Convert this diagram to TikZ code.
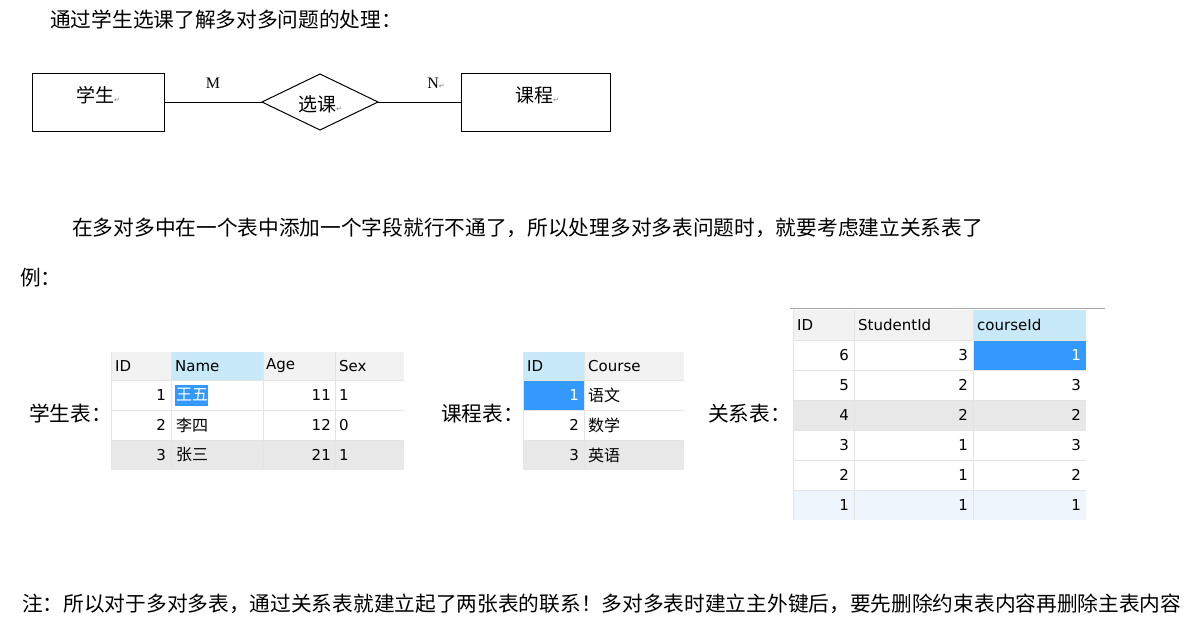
\documentclass[tikz,border=0pt]{standalone}
\usepackage{fontspec}
\setmainfont{Noto Sans CJK SC}
\newfontfamily\latinf{Liberation Serif}
\newfontfamily\uif{DejaVu Sans}
\usetikzlibrary{shapes.geometric}
\definecolor{hdr}{HTML}{F2F2F2}
\definecolor{hdrblue}{HTML}{C8EAF8}
\definecolor{sel}{HTML}{3399FF}
\definecolor{grayrow}{HTML}{E8E8E8}
\definecolor{lightrow}{HTML}{EEF5FD}
\definecolor{gridc}{HTML}{E4E4E4}
\tikzset{
 txt/.style={font=\fontsize{20.7}{20.7}\selectfont, anchor=west, inner sep=0},
 cell/.style={font=\fontsize{15}{15}\selectfont\uif, inner sep=0},
 ent/.style={draw=black, line width=1pt},
}
\begin{document}
\begin{tikzpicture}[x=1pt,y=-1pt]
\useasboundingbox (0,0) rectangle (1187,625);
\fill[white] (0,0) rectangle (1187,625);
\node[txt] (t1) at (50,20) {通过学生选课了解多对多问题的处理：};
% ER
\draw[ent] (32,73) rectangle (164,131);
\node[font=\fontsize{19}{19}\selectfont] (s) at (98,95) {学生\textcolor{gray}{\uif\scriptsize ↵}};
\draw[ent] (461,73) rectangle (610,131);
\node[font=\fontsize{19}{19}\selectfont] (c) at (537,95) {课程\textcolor{gray}{\uif\scriptsize ↵}};
\draw[ent] (262,102) -- (320,74) -- (378,102) -- (320,130) -- cycle;
\node[font=\fontsize{19}{19}\selectfont] (d) at (320,104) {选课\textcolor{gray}{\uif\scriptsize ↵}};
\draw[line width=1pt] (164,102) -- (262,102);
\draw[line width=1pt] (378,102) -- (461,102);
\node[font=\fontsize{16}{16}\selectfont\latinf] (m) at (213,83) {M};
\node[font=\fontsize{16}{16}\selectfont\latinf] (n) at (436,83) {N\textcolor{gray}{\uif\scriptsize ↵}};
\node[txt] (t2) at (72,228) {在多对多中在一个表中添加一个字段就行不通了，所以处理多对多表问题时，就要考虑建立关系表了};
\node[txt] (t3) at (20,278) {例：};
\node[txt] (l1) at (29,414) {学生表：};
\node[txt] (l2) at (441,414) {课程表：};
\node[txt] (l3) at (708,414) {关系表：};
% student table
\fill[hdr] (111,352) rectangle (404,380);
\fill[hdrblue] (171,352) rectangle (263,380);
\fill[grayrow] (111,440) rectangle (404,470);
\foreach \x in {111,171,263,335} \draw[gridc] (\x,352) -- (\x,470);
\foreach \y in {380,410,440} \draw[gridc] (111,\y) -- (404,\y);
\fill[sel] (175,385) rectangle (208,406);
\foreach \t/\x in {ID/115,Name/175,Age/266,Sex/339} \node[cell,anchor=west] at (\x,366) {\t};
\foreach \i/\nm/\a/\s [count=\k] in {1/王五/11/1,2/李四/12/0,3/张三/21/1}{
 \node[cell,anchor=east] at (166,365+30*\k) {\i};
 \node[cell,anchor=west,font=\fontsize{16}{16}\selectfont] at (176,365+30*\k) {\ifnum\k=1 \textcolor{white}{\nm}\else\nm\fi};
 \node[cell,anchor=east] at (331,365+30*\k) {\a};
 \node[cell,anchor=west] at (339,365+30*\k) {\s};
}
% course table
\fill[hdr] (523,352) rectangle (684,380);
\fill[hdrblue] (523,352) rectangle (584,380);
\fill[grayrow] (523,440) rectangle (684,470);
\fill[sel] (523,380) rectangle (584,410);
\foreach \x in {523,584} \draw[gridc] (\x,352) -- (\x,470);
\foreach \y in {380,410,440} \draw[gridc] (523,\y) -- (684,\y);
\node[cell,anchor=west] at (527,366) {ID};
\node[cell,anchor=west] at (588,366) {Course};
\foreach \c [count=\k] in {语文,数学,英语}{
 \node[cell,anchor=east] at (579,365+30*\k) {\ifnum\k=1 \textcolor{white}{\k}\else\k\fi};
 \node[cell,anchor=west,font=\fontsize{16}{16}\selectfont] at (588,365+30*\k) {\c};
}
% relation table
\draw[gray!70] (790,308) -- (1105,308);
\fill[hdr] (793,310) rectangle (1086,340);
\fill[hdrblue] (973,310) rectangle (1086,340);
\fill[grayrow] (793,400) rectangle (1086,430);
\fill[lightrow] (793,490) rectangle (1086,520);
\fill[sel] (973,340) rectangle (1086,370);
\foreach \x in {793,854,973} \draw[gridc] (\x,310) -- (\x,520);
\foreach \y in {340,370,400,430,460,490} \draw[gridc] (793,\y) -- (1086,\y);
\node[cell,anchor=west] at (797,325) {ID};
\node[cell,anchor=west] at (858,325) {StudentId};
\node[cell,anchor=west] at (977,325) {courseId};
\foreach \i/\s/\c [count=\k] in {6/3/1,5/2/3,4/2/2,3/1/3,2/1/2,1/1/1}{
 \node[cell,anchor=east] at (849,325+30*\k) {\i};
 \node[cell,anchor=east] at (968,325+30*\k) {\s};
 \node[cell,anchor=east] at (1081,325+30*\k) {\ifnum\k=1 \textcolor{white}{\c}\else\c\fi};
}
\node[txt] (t4) at (22,604) {注：所以对于多对多表，通过关系表就建立起了两张表的联系！多对多表时建立主外键后，要先删除约束表内容再删除主表内容};
\end{tikzpicture}
\end{document}
